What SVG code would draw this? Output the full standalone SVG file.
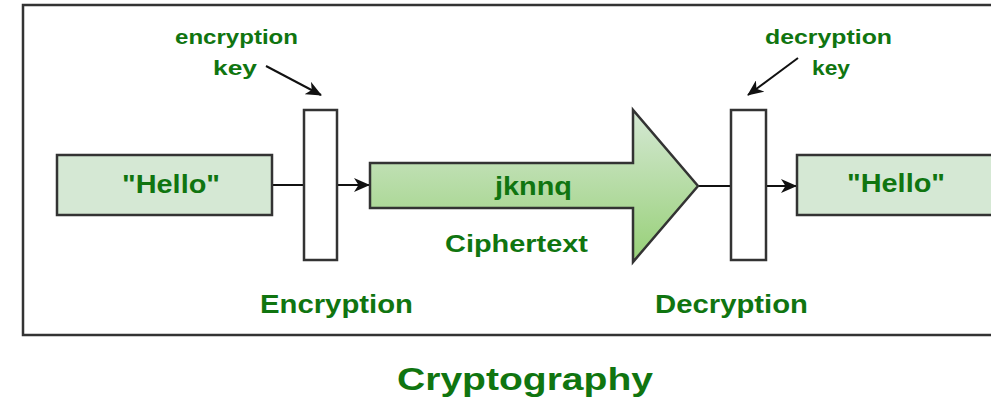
<svg xmlns="http://www.w3.org/2000/svg" width="991" height="401" viewBox="0 0 991 401">
  <style>
    .lbl { font-family: "Liberation Sans", Arial, sans-serif; font-weight: bold; fill: #107510; }
    .box { stroke: #333333; stroke-width: 2.5; }
    .conn { fill: none; stroke: #111111; stroke-width: 2; }
  </style>
  <defs>
    <linearGradient id="cipherFill" x1="0" y1="0" x2="0" y2="1">
      <stop offset="0" stop-color="#d5e8d4"/>
      <stop offset="1" stop-color="#97d077"/>
    </linearGradient>
    <marker id="arrowHead" viewBox="0 0 16 14" refX="15" refY="7" markerWidth="16" markerHeight="14" markerUnits="userSpaceOnUse" orient="auto">
      <path d="M0,0 L16,7 L0,14 L4.5,7 Z" fill="#111111"/>
    </marker>
  </defs>

  <rect width="991" height="401" fill="#ffffff"/>

  <!-- outer frame -->
  <g id="frame">
    <rect x="23" y="5" width="990" height="330" fill="none" stroke="#333333" stroke-width="2.5"/>
  </g>

  <!-- connectors -->
  <g id="connectors">
    <line class="conn" x1="272" y1="185" x2="304" y2="185"/>
    <line class="conn" x1="337" y1="185" x2="369" y2="185" marker-end="url(#arrowHead)"/>
    <line class="conn" x1="698" y1="186" x2="731" y2="186"/>
    <line class="conn" x1="766" y1="186" x2="796" y2="186" marker-end="url(#arrowHead)"/>
    <line class="conn" x1="266" y1="66" x2="321" y2="95" marker-end="url(#arrowHead)"/>
    <line class="conn" x1="798" y1="58" x2="748" y2="95" marker-end="url(#arrowHead)"/>
  </g>

  <!-- plaintext in -->
  <g id="plain-in">
    <rect class="box" x="57" y="155" width="215" height="60" fill="#d5e8d4"/>
    <text class="lbl" x="171" y="193" font-size="25" text-anchor="middle" textLength="98" lengthAdjust="spacingAndGlyphs">"Hello"</text>
  </g>

  <!-- encryption step -->
  <g id="encryption">
    <rect class="box" x="304" y="110" width="33" height="150" fill="#ffffff"/>
    <text class="lbl" x="336.5" y="313" font-size="26" text-anchor="middle" textLength="153" lengthAdjust="spacingAndGlyphs">Encryption</text>
  </g>

  <g id="encryption-key">
    <text class="lbl" x="236.5" y="44" font-size="20" text-anchor="middle" textLength="123" lengthAdjust="spacingAndGlyphs">encryption</text>
    <text class="lbl" x="235" y="75" font-size="20" text-anchor="middle" textLength="44" lengthAdjust="spacingAndGlyphs">key</text>
  </g>

  <!-- ciphertext arrow -->
  <g id="ciphertext">
    <path class="box" d="M370,163 L633,163 L633,110 L698,186 L633,262 L633,208 L370,208 Z" fill="url(#cipherFill)"/>
    <text class="lbl" x="533.5" y="195" font-size="25" text-anchor="middle" textLength="77" lengthAdjust="spacingAndGlyphs">jknnq</text>
    <text class="lbl" x="516.5" y="252" font-size="24" text-anchor="middle" textLength="143" lengthAdjust="spacingAndGlyphs">Ciphertext</text>
  </g>

  <!-- decryption step -->
  <g id="decryption">
    <rect class="box" x="731" y="110" width="35" height="150" fill="#ffffff"/>
    <text class="lbl" x="731.5" y="313" font-size="26" text-anchor="middle" textLength="153" lengthAdjust="spacingAndGlyphs">Decryption</text>
  </g>

  <g id="decryption-key">
    <text class="lbl" x="828.5" y="44" font-size="20" text-anchor="middle" textLength="127" lengthAdjust="spacingAndGlyphs">decryption</text>
    <text class="lbl" x="831" y="75" font-size="20" text-anchor="middle" textLength="38" lengthAdjust="spacingAndGlyphs">key</text>
  </g>

  <!-- plaintext out -->
  <g id="plain-out">
    <rect class="box" x="797" y="155" width="220" height="60" fill="#d5e8d4"/>
    <text class="lbl" x="896" y="192" font-size="25" text-anchor="middle" textLength="98" lengthAdjust="spacingAndGlyphs">"Hello"</text>
  </g>

  <!-- caption -->
  <g id="caption">
    <text class="lbl" x="525" y="390" font-size="31" text-anchor="middle" textLength="256" lengthAdjust="spacingAndGlyphs">Cryptography</text>
  </g>
</svg>
